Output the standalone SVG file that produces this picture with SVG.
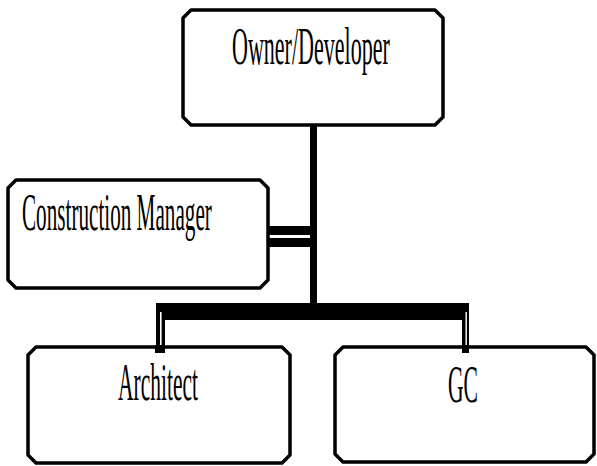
<svg xmlns="http://www.w3.org/2000/svg" width="597" height="466" viewBox="0 0 597 466">
  <style>
    .box { fill: #ffffff; stroke: #000000; stroke-width: 3.5; stroke-linejoin: round; }
    .label { font-family: "Liberation Serif", "Times New Roman", serif; font-size: 53px; fill: #000000; }
    .bar { fill: #000000; }
    .gap { fill: #ffffff; }
  </style>
  <rect width="597" height="466" fill="#ffffff"/>

  <!-- connectors -->
  <g id="connectors">
    <!-- trunk from Owner/Developer down to the cross bar -->
    <rect class="bar" x="310" y="124" width="7" height="182"/>
    <!-- double link to Construction Manager -->
    <rect class="bar" x="267" y="226" width="46" height="21"/>
    <rect class="gap" x="269" y="235" width="41" height="3"/>
    <!-- cross bar -->
    <rect class="bar" x="156" y="303" width="312" height="17"/>
    <!-- left leg to Architect -->
    <rect class="bar" x="156" y="303" width="9" height="50"/>
    <rect class="gap" x="160" y="312" width="1.6" height="33"/>
    <!-- right leg to GC -->
    <rect class="bar" x="462" y="303" width="7" height="50"/>
    <rect class="gap" x="465.5" y="312" width="1.4" height="33"/>
  </g>

  <!-- labels are set in a horizontally condensed serif (scale 0.41) -->
  <g id="owner">
    <path class="box" d="M191,10 H435 L443,18 V117 L435,125 H191 L183,117 V18 Z"/>
    <text class="label" transform="translate(232,64) scale(0.41,1)" x="0" y="0" textLength="385" lengthAdjust="spacingAndGlyphs">Owner/Developer</text>
  </g>

  <g id="construction-manager">
    <path class="box" d="M16,180 H260 L268,188 V280 L260,288 H16 L8,280 V188 Z"/>
    <text class="label" transform="translate(22,230) scale(0.41,1)" x="0" y="0" textLength="463" lengthAdjust="spacingAndGlyphs">Construction Manager</text>
  </g>

  <g id="architect">
    <path class="box" d="M36,347 H282 L290,355 V455 L282,463 H36 L28,455 V355 Z"/>
    <text class="label" transform="translate(118,400) scale(0.41,1)" x="0" y="0" textLength="195" lengthAdjust="spacingAndGlyphs">Architect</text>
  </g>

  <g id="gc">
    <path class="box" d="M343,347 H586 L594,355 V454 L586,462 H343 L335,454 V355 Z"/>
    <text class="label" transform="translate(448,402) scale(0.41,1)" x="0" y="0" textLength="73" lengthAdjust="spacingAndGlyphs">GC</text>
  </g>

  <!-- leg ends sitting on the box tops -->
  <g id="leg-ends">
    <rect class="bar" x="155" y="345" width="10" height="8"/>
    <rect class="bar" x="462" y="345" width="7" height="8"/>
  </g>
</svg>
